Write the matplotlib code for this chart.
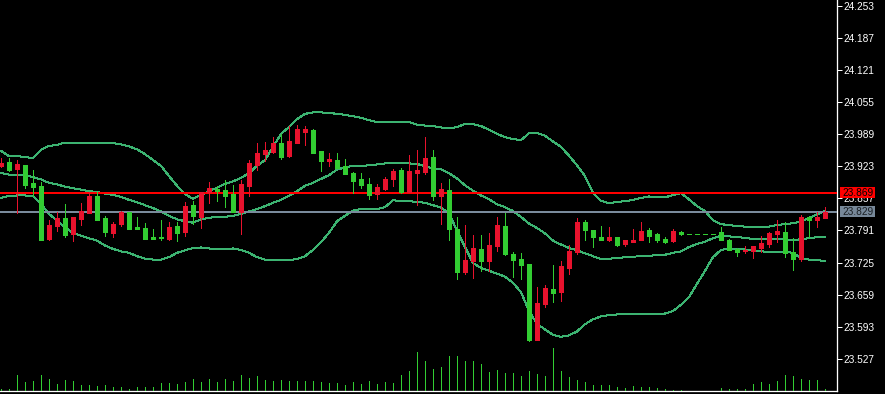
import matplotlib
matplotlib.use("Agg")
import matplotlib.pyplot as plt
import numpy as np
from matplotlib.patches import Rectangle
from matplotlib.transforms import IdentityTransform

# ---------------- data ----------------
opens = [23.924, 23.932, 23.918, 23.926, 23.889, 23.883, 23.773, 23.801, 23.817, 23.784,
         23.815, 23.827, 23.862, 23.817, 23.786, 23.804, 23.829, 23.798, 23.796, 23.778,
         23.778, 23.774, 23.800, 23.788, 23.843, 23.819, 23.870, 23.876, 23.874, 23.866,
         23.829, 23.883, 23.926, 23.949, 23.953, 23.971, 23.945, 23.971, 23.994, 23.998,
         23.955, 23.934, 23.936, 23.924, 23.909, 23.897, 23.887, 23.867, 23.876, 23.897,
         23.915, 23.870, 23.909, 23.911, 23.942, 23.862, 23.874, 23.794, 23.706, 23.729,
         23.753, 23.729, 23.758, 23.800, 23.743, 23.732, 23.722, 23.566, 23.640, 23.670,
         23.664, 23.714, 23.747, 23.808, 23.792, 23.778, 23.772, 23.778, 23.764, 23.767,
         23.772, 23.792, 23.784, 23.773, 23.769, 23.788, 23.784, 23.784, 23.784, 23.784,
         23.788, 23.771, 23.753, 23.749, 23.749, 23.755, 23.763, 23.784, 23.788, 23.747,
         23.732, 23.819, 23.812, 23.817]
highs = [23.941, 23.940, 23.936, 23.926, 23.915, 23.891, 23.812, 23.829, 23.845, 23.819,
         23.848, 23.870, 23.870, 23.821, 23.808, 23.831, 23.829, 23.819, 23.806, 23.794,
         23.812, 23.809, 23.809, 23.850, 23.852, 23.870, 23.891, 23.882, 23.895, 23.884,
         23.895, 23.936, 23.971, 23.973, 23.983, 23.990, 24.005, 24.009, 24.005, 24.000,
         23.955, 23.950, 23.950, 23.938, 23.911, 23.909, 23.899, 23.887, 23.901, 23.918,
         23.920, 23.946, 23.957, 23.983, 23.957, 23.889, 23.897, 23.819, 23.802, 23.782,
         23.782, 23.786, 23.819, 23.827, 23.747, 23.745, 23.722, 23.675, 23.679, 23.720,
         23.728, 23.761, 23.817, 23.812, 23.792, 23.800, 23.798, 23.778, 23.771, 23.794,
         23.808, 23.796, 23.786, 23.778, 23.794, 23.790, 23.784, 23.784, 23.784, 23.784,
         23.798, 23.773, 23.755, 23.759, 23.759, 23.780, 23.788, 23.812, 23.808, 23.776,
         23.823, 23.819, 23.829, 23.839]
lows = [23.922, 23.913, 23.827, 23.879, 23.861, 23.771, 23.771, 23.790, 23.777, 23.769,
        23.802, 23.827, 23.812, 23.780, 23.778, 23.800, 23.794, 23.794, 23.773, 23.773,
        23.771, 23.772, 23.770, 23.780, 23.804, 23.797, 23.848, 23.852, 23.839, 23.829,
        23.784, 23.861, 23.916, 23.934, 23.950, 23.938, 23.942, 23.971, 23.967, 23.951,
        23.913, 23.924, 23.920, 23.908, 23.868, 23.878, 23.856, 23.856, 23.874, 23.882,
        23.868, 23.870, 23.843, 23.907, 23.854, 23.804, 23.771, 23.691, 23.701, 23.693,
        23.708, 23.708, 23.749, 23.741, 23.696, 23.692, 23.563, 23.566, 23.634, 23.644,
        23.646, 23.701, 23.743, 23.771, 23.757, 23.772, 23.769, 23.760, 23.760, 23.767,
        23.772, 23.768, 23.768, 23.765, 23.767, 23.782, 23.784, 23.784, 23.784, 23.784,
        23.771, 23.751, 23.738, 23.745, 23.734, 23.747, 23.757, 23.767, 23.736, 23.710,
        23.728, 23.778, 23.798, 23.817]
closes = [23.930, 23.915, 23.928, 23.885, 23.880, 23.772, 23.802, 23.817, 23.782, 23.819,
          23.831, 23.862, 23.812, 23.788, 23.804, 23.829, 23.794, 23.794, 23.773, 23.773,
          23.776, 23.799, 23.786, 23.841, 23.821, 23.870, 23.878, 23.872, 23.862, 23.829,
          23.887, 23.930, 23.950, 23.957, 23.970, 23.942, 23.975, 24.000, 24.000, 23.951,
          23.933, 23.938, 23.920, 23.908, 23.893, 23.885, 23.865, 23.880, 23.897, 23.913,
          23.870, 23.913, 23.915, 23.940, 23.862, 23.876, 23.794, 23.706, 23.730, 23.755,
          23.729, 23.761, 23.802, 23.743, 23.731, 23.720, 23.566, 23.642, 23.673, 23.662,
          23.718, 23.749, 23.808, 23.792, 23.778, 23.772, 23.778, 23.762, 23.771, 23.771,
          23.790, 23.780, 23.772, 23.767, 23.790, 23.784, 23.784, 23.784, 23.784, 23.784,
          23.771, 23.751, 23.747, 23.751, 23.759, 23.765, 23.786, 23.790, 23.745, 23.732,
          23.819, 23.812, 23.819, 23.829]
volumes = [2, 2, 16, 9, 10, 16, 12, 7, 11, 10,
           6, 6, 5, 6, 4, 4, 2, 4, 4, 4,
           8, 8, 7, 9, 12, 9, 12, 9, 12, 10,
           16, 13, 15, 11, 10, 11, 10, 10, 10, 10,
           9, 8, 8, 6, 9, 7, 10, 7, 9, 8,
           16, 20, 39, 30, 22, 24, 35, 35, 30, 30,
           27, 19, 21, 18, 18, 15, 20, 17, 15, 43,
           20, 14, 11, 9, 6, 6, 6, 4, 3, 5,
           4, 4, 3, 2, 1, 1, 0, 0, 0, 0,
           3, 2, 2, 2, 7, 9, 7, 10, 16, 15,
           12, 11, 11, 2]
bb_upper = [23.955, 23.944, 23.944, 23.942, 23.940, 23.957, 23.965, 23.967, 23.972, 23.972,
            23.972, 23.970, 23.970, 23.972, 23.971, 23.968, 23.964, 23.958, 23.948, 23.936,
            23.924, 23.903, 23.883, 23.866, 23.856, 23.864, 23.872, 23.879, 23.887, 23.892,
            23.899, 23.909, 23.924, 23.936, 23.963, 23.990, 24.004, 24.020, 24.031, 24.034,
            24.034, 24.033, 24.031, 24.029, 24.026, 24.023, 24.018, 24.014, 24.014, 24.014,
            24.014, 24.014, 24.009, 24.007, 24.006, 24.003, 24.001, 24.004, 24.010, 24.010,
            24.006, 23.998, 23.990, 23.983, 23.979, 23.977, 23.991, 23.992, 23.986, 23.974,
            23.963, 23.945, 23.925, 23.903, 23.868, 23.852, 23.847, 23.850, 23.851, 23.854,
            23.858, 23.861, 23.859, 23.859, 23.864, 23.868, 23.855, 23.841, 23.831, 23.812,
            23.804, 23.802, 23.800, 23.799, 23.799, 23.799, 23.799, 23.802, 23.804, 23.806,
            23.809, 23.817, 23.824, 23.831]
bb_middle = [23.909, 23.906, 23.906, 23.904, 23.901, 23.896, 23.889, 23.886, 23.881, 23.878,
             23.875, 23.872, 23.870, 23.867, 23.864, 23.860, 23.854, 23.849, 23.843, 23.837,
             23.830, 23.821, 23.814, 23.810, 23.807, 23.814, 23.817, 23.819, 23.819, 23.821,
             23.825, 23.830, 23.835, 23.841, 23.848, 23.854, 23.862, 23.872, 23.883, 23.889,
             23.897, 23.905, 23.916, 23.921, 23.924, 23.924, 23.925, 23.927, 23.929, 23.929,
             23.929, 23.929, 23.928, 23.923, 23.919, 23.917, 23.909, 23.898, 23.884, 23.873,
             23.863, 23.855, 23.845, 23.839, 23.831, 23.819, 23.805, 23.796, 23.785, 23.770,
             23.762, 23.755, 23.750, 23.744, 23.738, 23.732, 23.733, 23.734, 23.736, 23.737,
             23.738, 23.739, 23.740, 23.741, 23.745, 23.748, 23.757, 23.763, 23.768, 23.775,
             23.780, 23.779, 23.777, 23.776, 23.773, 23.773, 23.773, 23.773, 23.773, 23.771,
             23.773, 23.775, 23.777, 23.778]
bb_lower = [23.858, 23.862, 23.863, 23.863, 23.862, 23.846, 23.825, 23.811, 23.798, 23.786,
            23.780, 23.775, 23.770, 23.760, 23.753, 23.748, 23.745, 23.738, 23.733, 23.731,
            23.731, 23.736, 23.745, 23.750, 23.755, 23.756, 23.754, 23.752, 23.752, 23.754,
            23.751, 23.745, 23.736, 23.731, 23.730, 23.730, 23.730, 23.732, 23.738, 23.751,
            23.767, 23.786, 23.810, 23.821, 23.832, 23.835, 23.835, 23.835, 23.839, 23.853,
            23.852, 23.851, 23.850, 23.848, 23.843, 23.838, 23.827, 23.790, 23.757, 23.724,
            23.714, 23.708, 23.702, 23.696, 23.683, 23.664, 23.625, 23.599, 23.587, 23.576,
            23.572, 23.575, 23.583, 23.598, 23.608, 23.614, 23.617, 23.618, 23.618, 23.618,
            23.620, 23.620, 23.620, 23.620, 23.625, 23.638, 23.654, 23.681, 23.708, 23.736,
            23.751, 23.754, 23.753, 23.752, 23.749, 23.748, 23.747, 23.747, 23.747, 23.745,
            23.734, 23.731, 23.730, 23.728]
tick_values = [24.253, 24.187, 24.121, 24.055, 23.989, 23.923, 23.857, 23.791, 23.725, 23.659, 23.593, 23.527]
tick_labels = ["24.253", "24.187", "24.121", "24.055", "23.989", "23.923", "23.857", "23.791", "23.725", "23.659", "23.593", "23.527"]
red_level = 23.869
red_label = "23.869"
bid_level = 23.829
bid_label = "23.829"

# ---------------- style ----------------
UP = '#E8122D'
DOWN = '#32CD32'
BAND = '#3CB371'
VOL = '#32CD32'
PX = 0.72  # 1 pixel in points at dpi 100
FS = 7.3

W, H = 885, 394
fig = plt.figure(figsize=(W / 100, H / 100), dpi=100, facecolor='black')
ax = fig.add_axes([0, 3 / H, 837 / W, 391 / H])
ax.set_facecolor('black')
n = len(opens)
x = np.arange(n)
ax.set_xlim(-0.125, -0.125 + 837 / 8)
ax.set_ylim(23.4605, 24.2654)

# volume (own scale, same area)
vax = fig.add_axes([0, 3 / H, 837 / W, 391 / H], sharex=ax)
vax.set_ylim(0, 391)
vax.patch.set_visible(False)
vax.axis('off')
vax.vlines(x, 0, volumes, color=VOL, lw=PX, antialiased=False)

# bands
for band in (bb_upper, bb_middle, bb_lower):
    ax.plot(x, band, color=BAND, lw=PX, antialiased=False, zorder=2)

# levels
ax.axhline(red_level, color='#FF0000', lw=1.1, antialiased=False, zorder=3)
ax.axhline(bid_level, color='#7A8B9C', lw=1.1, antialiased=False, zorder=3)

# candles
for i in range(n):
    o, h, l, c = opens[i], highs[i], lows[i], closes[i]
    col = UP if c > o else DOWN
    ax.vlines(i, l, h, color=col, lw=PX, antialiased=False, zorder=4)
    ax.add_patch(Rectangle((i - 0.25, min(o, c)), 0.5, abs(c - o), facecolor=col,
                           edgecolor=col, lw=PX, antialiased=False, zorder=5))

# axes look
for s in ('top', 'left'):
    ax.spines[s].set_visible(False)
for s in ('right', 'bottom'):
    ax.spines[s].set_color('white')
    ax.spines[s].set_linewidth(PX * 1.3)
ax.set_xticks([])
ax.yaxis.tick_right()
ax.set_yticks(tick_values)
ax.set_yticklabels(tick_labels)
ax.tick_params(axis='y', colors='white', length=3.6, width=PX, pad=1, labelsize=FS)
for t in ax.get_yticklabels():
    t.set_fontfamily('Liberation Sans')

# price labels on the axis
fig.canvas.draw()
for lvl, lab, bg, fg in ((red_level, red_label, '#FF0000', '#000000'),
                         (bid_level, bid_label, '#778899', '#1A1F24')):
    yd = ax.transData.transform((0, lvl))[1]
    fig.add_artist(Rectangle((840, yd - 5.5), 35, 11, transform=IdentityTransform(),
                             facecolor=bg, edgecolor='none', zorder=10))
    fig.text(842, yd, lab, transform=IdentityTransform(), color=fg, fontsize=FS,
             fontfamily='Liberation Sans', va='center', ha='left', zorder=11)

fig.savefig('out.png', dpi=100, facecolor='black')
